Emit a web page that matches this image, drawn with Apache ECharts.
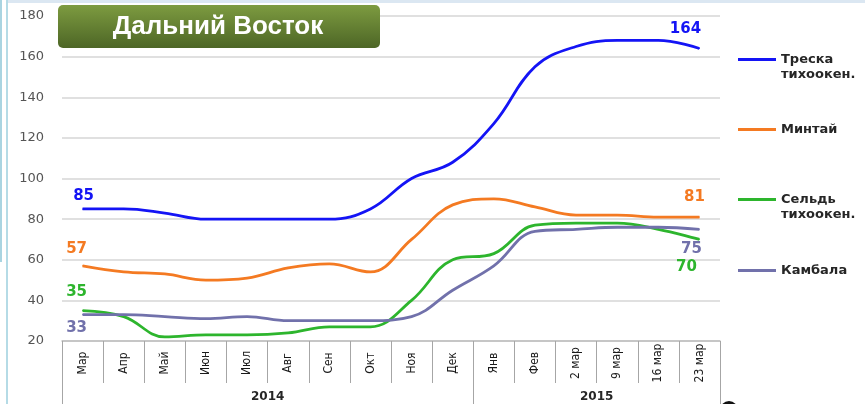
<!DOCTYPE html>
<html>
<head>
  <meta charset="utf-8"/>
  <title>Дальний Восток</title>
  <script src="https://cdn.jsdelivr.net/npm/echarts@6/dist/echarts.min.js"></script>
  <style>
    html, body { margin: 0; padding: 0; background: #fff; }
    #main { width: 865px; height: 404px; }
  </style>
</head>
<body>
<div id="main"></div>
<script>
// данные с графика
var months = ['Мар', 'Апр', 'Май', 'Июн', 'Июл', 'Авг', 'Сен', 'Окт', 'Ноя', 'Дек', 'Янв', 'Фев', '2 мар', '9 мар', '16 мар', '23 мар'];
var years = ['2014', '2015'];
var yearSpans = [10, 6];

var treska  = [85, 85, 83, 80, 80, 80, 80, 85, 100, 108, 127, 155, 165, 168, 168, 164];
var mintai  = [57, 54, 53, 50, 51, 56, 58, 54, 70, 87, 90, 86, 82, 82, 81, 81];
var seld    = [35, 32, 22, 23, 23, 24, 27, 27, 40, 60, 63, 77, 78, 78, 75, 70];
var kambala = [33, 33, 32, 31, 32, 30, 30, 30, 32, 45, 57, 74, 75, 76, 76, 75];

var yTicks = [20, 40, 60, 80, 100, 120, 140, 160, 180];

var chart = echarts.init(document.getElementById('main'));

// подписи только у первой и последней точки
function withEnds(values, color, first, last) {
  var n = values.length - 1;
  return values.map(function (v, i) {
    if (i === 0) return { value: v, label: Object.assign({ show: true, color: color }, first) };
    if (i === n) return { value: v, label: Object.assign({ show: true, color: color }, last) };
    return v;
  });
}

function line(name, values, color, first, last) {
  return {
    name: name,
    type: 'line',
    smooth: 0.4,
    symbol: 'circle',
    symbolSize: 1,
    showSymbol: true,
    data: withEnds(values, color, first, last),
    lineStyle: { color: color, width: 2.8 },
    itemStyle: { color: color },
    label: {
      show: false,
      fontFamily: 'DejaVu Sans',
      fontWeight: 'bold',
      fontSize: 15
    }
  };
}

// годы: центры и границы по категориям
var yearCenters = [], yearBounds = [0], acc = 0;
yearSpans.forEach(function (s) {
  yearCenters.push(acc + s / 2);
  acc += s;
  yearBounds.push(acc);
});

function legendFor(name, top) {
  return {
    data: [name],
    left: 733,
    top: top,
    orient: 'vertical',
    icon: 'rect',
    itemWidth: 38,
    itemHeight: 3,
    selectedMode: false,
    formatter: function (n) {
      return n.indexOf(' ') > 0 ? ' \n' + n.replace(' ', '\n') : n;
    },
    textStyle: {
      fontFamily: 'DejaVu Sans',
      fontWeight: 'bold',
      fontSize: 13,
      lineHeight: 15,
      color: '#262626'
    }
  };
}

var option = {
  animation: false,
  backgroundColor: '#fff',
  grid: { left: 62, right: 145, top: 16, bottom: 63 },
  graphic: [
    { type: 'rect', shape: { x: 8, y: 0, width: 857, height: 3 }, style: { fill: '#dbe7f2' }, z: -1 },
    { type: 'rect', shape: { x: 6, y: 0, width: 2, height: 404 }, style: { fill: '#b5dbe6' }, z: -1 },
    { type: 'rect', shape: { x: 0, y: 0, width: 2, height: 262 }, style: { fill: '#a9d4e1' }, z: -1 },
    {
      type: 'rect',
      shape: { x: 58, y: 5, width: 322, height: 43, r: 5 },
      style: {
        fill: new echarts.graphic.LinearGradient(0, 0, 0, 1, [
          { offset: 0, color: '#7d9b40' },
          { offset: 1, color: '#4d6626' }
        ])
      },
      z: 10
    },
    {
      type: 'text',
      x: 218, y: 27,
      style: {
        text: 'Дальний Восток',
        fill: '#fff',
        font: 'bold 26px "Liberation Sans", Arial, sans-serif',
        textAlign: 'center',
        textVerticalAlign: 'middle'
      },
      z: 11
    },
    { type: 'circle', shape: { cx: 729, cy: 410, r: 9 }, style: { fill: '#111' } }
  ],
  legend: [
    legendFor('Треска тихоокен.', 32),
    legendFor('Минтай', 117),
    legendFor('Сельдь тихоокен.', 172),
    legendFor('Камбала', 258)
  ],
  xAxis: [
    {
      type: 'category',
      data: months,
      boundaryGap: true,
      axisLine: { show: true, lineStyle: { color: '#bdbdbd', width: 1.5 } },
      axisTick: { show: true, interval: 0, length: 42, lineStyle: { color: '#a6a6a6' } },
      axisLabel: {
        interval: 0,
        rotate: 90,
        align: 'center',
        margin: 22,
        fontFamily: '"DejaVu Sans Condensed", "Liberation Sans", Arial',
        fontSize: 12,
        color: '#1a1a1a'
      }
    },
    {
      type: 'value',
      position: 'bottom',
      offset: 42,
      min: 0,
      max: months.length,
      axisLine: { show: false },
      splitLine: { show: false },
      axisTick: {
        show: true,
        customValues: yearBounds,
        length: 22,
        lineStyle: { color: '#a6a6a6' }
      },
      axisLabel: {
        customValues: yearCenters,
        margin: 8,
        formatter: function (v) { return years[yearCenters.indexOf(v)]; },
        fontFamily: 'DejaVu Sans',
        fontWeight: 'bold',
        fontSize: 12,
        color: '#262626'
      }
    }
  ],
  yAxis: {
    type: 'value',
    min: yTicks[0],
    max: yTicks[yTicks.length - 1],
    interval: 20,
    axisLine: { show: false },
    axisTick: { show: false },
    axisLabel: {
      margin: 18,
      fontFamily: 'DejaVu Sans',
      fontSize: 13,
      color: '#555'
    },
    splitLine: { lineStyle: { color: '#d6d6d6', width: 1.5 } }
  },
  series: [
    line('Треска тихоокен.', treska, '#1414f5',
      { position: 'top', offset: [1, 0] },
      { position: 'top', offset: [-14, -6] }),
    line('Минтай', mintai, '#f47a22',
      { position: 'top', offset: [-6, -4] },
      { position: 'top', offset: [-5, -7] }),
    line('Сельдь тихоокен.', seld, '#2db52d',
      { position: 'top', offset: [-6, -5] },
      { position: 'bottom', offset: [-13, 15] }),
    line('Камбала', kambala, '#7171ab',
      { position: 'bottom', offset: [-6, 1] },
      { position: 'bottom', offset: [-8, 7] })
  ]
};

chart.setOption(option);
</script>
</body>
</html>
